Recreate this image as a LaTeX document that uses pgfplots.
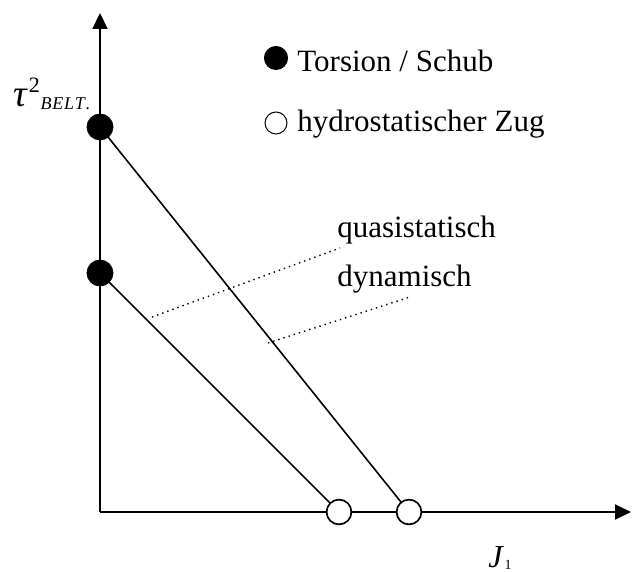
\documentclass[border=0pt]{standalone}
\usepackage{fontspec}
\setmainfont{Liberation Serif}
\usepackage{pgfplots}
\pgfplotsset{compat=1.18}
\usetikzlibrary{arrows.meta}
\begin{document}
\begin{tikzpicture}
\begin{axis}[
 scale only axis, width=265.5pt, height=249.5pt,
 xmin=0, xmax=531, ymin=0, ymax=499,
 axis lines=left, ticks=none, clip=false,
 axis line style={line width=1pt, -{Triangle[length=8pt,width=7.5pt]}},
]
% bounding frame (invisible)
\addplot[draw=none, forget plot] coordinates {(-100,-59) (532,512)};
% main lines
\addplot[black, line width=0.8pt] coordinates {(0,385) (309,0)};
\addplot[black, line width=0.8pt] coordinates {(0,239) (239,0)};
% dotted leaders
\addplot[black, dotted, line width=0.7pt] coordinates {(52,195) (240,264)};
\addplot[black, dotted, line width=0.7pt] coordinates {(168,169) (310,215)};
% markers
\addplot[only marks, mark=*, mark size=6.5pt, black] coordinates {(0,385) (0,239)};
\addplot[only marks, mark=*, mark size=5.8pt, black] coordinates {(176,454)};
\addplot[only marks, mark=*, mark size=6.2pt, draw=black, fill=white, line width=0.85pt] coordinates {(239,0) (309,0)};
\addplot[only marks, mark=*, mark size=5.5pt, draw=black, fill=white, line width=0.5pt] coordinates {(176,389)};
% texts
\node[anchor=base west, inner sep=0pt] at (axis cs:197,440) {\fontsize{15.5}{18}\selectfont Torsion / Schub};
\node[anchor=base west, inner sep=0pt] at (axis cs:197,380) {\fontsize{15.5}{18}\selectfont hydrostatischer Zug};
\node[anchor=base west, inner sep=0pt] at (axis cs:237,274) {\fontsize{15.5}{18}\selectfont quasistatisch};
\node[anchor=base west, inner sep=0pt] at (axis cs:237,225) {\fontsize{15.5}{18}\selectfont dynamisch};
\node[anchor=base west, inner sep=0pt] at (axis cs:-87,405) {\fontsize{19}{22}\selectfont\itshape τ\kern1pt\raisebox{7pt}{\fontsize{11}{12}\selectfont\upshape 2}\kern0.3pt\raisebox{-1.5pt}{\fontsize{9}{10}\selectfont\itshape B\kern0.4pt E\kern0.4pt L\kern0.4pt T\kern0.4pt .}};
\node[anchor=base west, inner sep=0pt] at (axis cs:388,-55) {\fontsize{16}{18}\selectfont\itshape J\kern1pt\raisebox{-1pt}{\fontsize{7}{8}\selectfont\upshape 1}};
\end{axis}
\end{tikzpicture}
\end{document}
